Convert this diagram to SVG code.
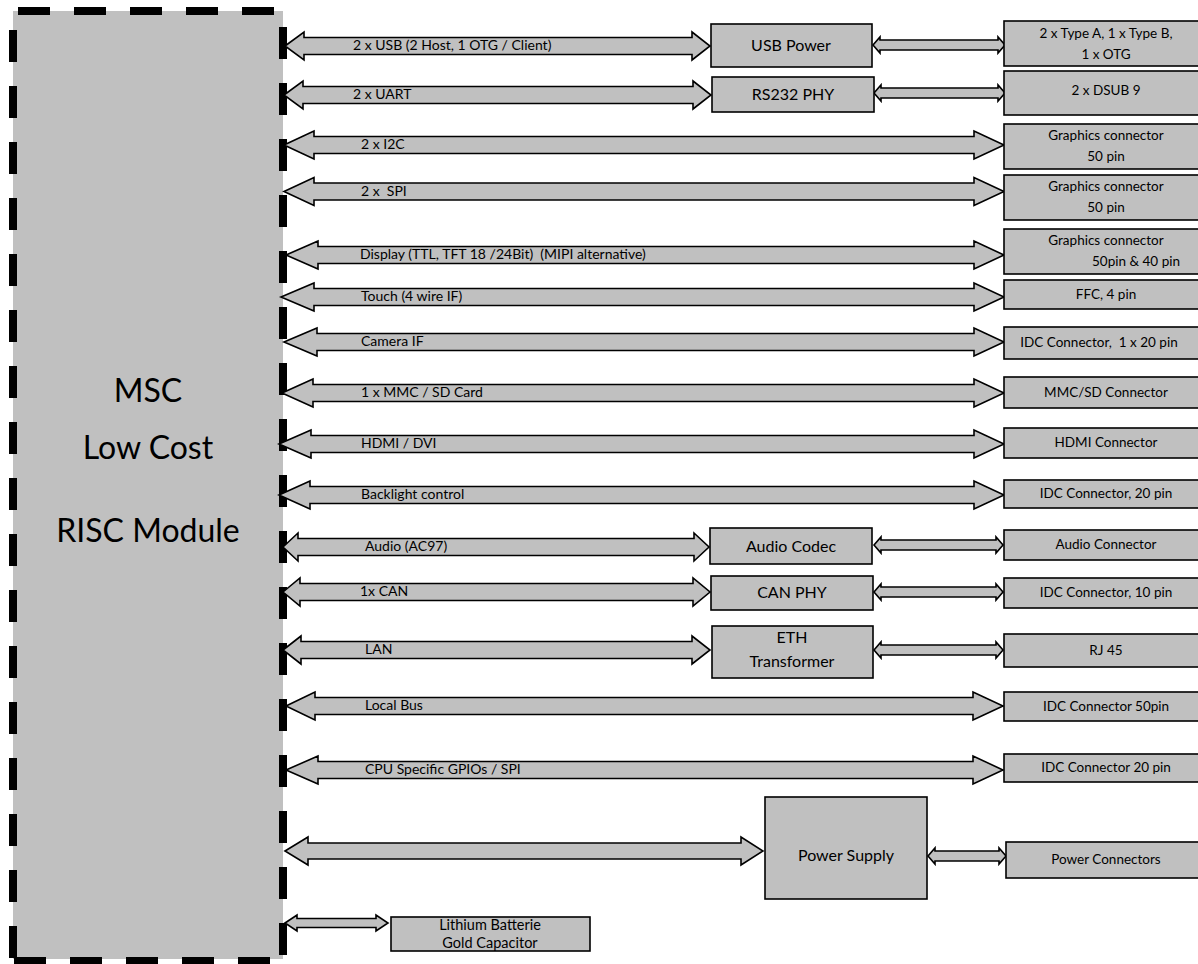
<svg xmlns="http://www.w3.org/2000/svg" width="1198" height="964" viewBox="0 0 1198 964">
<style>
.bx{fill:#c0c0c0;stroke:#000;stroke-width:1.6}
.ar{fill:#c0c0c0;stroke:#000;stroke-width:1.6;stroke-linejoin:miter}
.dash{stroke:#000;stroke-width:8;stroke-dasharray:32 24;fill:none}
text{font-family:Lato,"Open Sans","Liberation Sans",sans-serif;fill:#000}
.lb{font-size:14px}
.rt{font-size:13.5px;text-anchor:middle}
.mt{font-size:16px;text-anchor:middle}
.big{font-size:32px;text-anchor:middle}
</style>
<rect width="1198" height="964" fill="#fff"/>
<g id="msc">
<rect x="13" y="11" width="270" height="948" fill="#c0c0c0"/>
<line class="dash" x1="18" y1="11" x2="283" y2="11"/>
<line class="dash" x1="13" y1="30" x2="13" y2="959"/>
<line class="dash" x1="283" y1="27" x2="283" y2="959"/>
<line class="dash" x1="14" y1="961" x2="283" y2="961"/>
<text class="big" x="148" y="402">MSC</text>
<text class="big" x="148" y="459">Low Cost</text>
<text class="big" x="148" y="542">RISC Module</text>
</g>
<g id="connectors">
<path class="ar" d="M285,46 L304,32 L304,37.5 L692,37.5 L692,32 L710,46 L692,60 L692,54.5 L304,54.5 L304,60 Z"/>
<path class="ar" d="M284,95 L303,81 L303,86.5 L693,86.5 L693,81 L711,95 L693,109 L693,103.5 L303,103.5 L303,109 Z"/>
<path class="ar" d="M284,145 L314,131 L314,136.5 L974,136.5 L974,131 L1004,145 L974,159 L974,153.5 L314,153.5 L314,159 Z"/>
<path class="ar" d="M284,191.5 L314,177.5 L314,183 L974,183 L974,177.5 L1004,191.5 L974,205.5 L974,200 L314,200 L314,205.5 Z"/>
<path class="ar" d="M286,255 L318,241 L318,246.5 L974,246.5 L974,241 L1004,255 L974,269 L974,263.5 L318,263.5 L318,269 Z"/>
<path class="ar" d="M281,297 L314,283 L314,288.5 L974,288.5 L974,283 L1004,297 L974,311 L974,305.5 L314,305.5 L314,311 Z"/>
<path class="ar" d="M284,342 L317,328 L317,333.5 L974,333.5 L974,328 L1004,342 L974,356 L974,350.5 L317,350.5 L317,356 Z"/>
<path class="ar" d="M282,393 L313,379 L313,384.5 L974,384.5 L974,379 L1004,393 L974,407 L974,401.5 L313,401.5 L313,407 Z"/>
<path class="ar" d="M279,444 L311,430 L311,435.5 L974,435.5 L974,430 L1004,444 L974,458 L974,452.5 L311,452.5 L311,458 Z"/>
<path class="ar" d="M279,495 L310,481 L310,486.5 L974,486.5 L974,481 L1004,495 L974,509 L974,503.5 L310,503.5 L310,509 Z"/>
<path class="ar" d="M283,547 L298,533 L298,538.5 L694,538.5 L694,533 L709,547 L694,561 L694,555.5 L298,555.5 L298,561 Z"/>
<path class="ar" d="M283,592 L300,578 L300,583.5 L693,583.5 L693,578 L710,592 L693,606 L693,600.5 L300,600.5 L300,606 Z"/>
<path class="ar" d="M283,650 L301,636 L301,641.5 L692,641.5 L692,636 L710,650 L692,664 L692,658.5 L301,658.5 L301,664 Z"/>
<path class="ar" d="M286,706 L315,692 L315,697.5 L973,697.5 L973,692 L1003,706 L973,720 L973,714.5 L315,714.5 L315,720 Z"/>
<path class="ar" d="M286,770 L318,756 L318,761.5 L973,761.5 L973,756 L1003,770 L973,784 L973,778.5 L318,778.5 L318,784 Z"/>
<path class="ar" d="M285,851 L308,837 L308,843 L741,843 L741,837 L763,851 L741,865 L741,859 L308,859 L308,865 Z"/>
<path class="ar" d="M285,923 L297,915 L297,918.5 L376,918.5 L376,915 L388,923 L376,931 L376,927.5 L297,927.5 L297,931 Z"/>
<path class="ar" d="M873,45 L880,37 L880,40 L998,40 L998,37 L1005,45 L998,53 L998,50 L880,50 L880,53 Z"/>
<path class="ar" d="M874,93 L881,85 L881,88 L998,88 L998,85 L1005,93 L998,101 L998,98 L881,98 L881,101 Z"/>
<path class="ar" d="M874,545 L881,537 L881,540 L996,540 L996,537 L1003,545 L996,553 L996,550 L881,550 L881,553 Z"/>
<path class="ar" d="M874,592 L881,584 L881,587 L996,587 L996,584 L1003,592 L996,600 L996,597 L881,597 L881,600 Z"/>
<path class="ar" d="M874,650 L881,642 L881,645 L996,645 L996,642 L1003,650 L996,658 L996,655 L881,655 L881,658 Z"/>
<path class="ar" d="M928,856 L935,848 L935,851 L999,851 L999,848 L1006,856 L999,864 L999,861 L935,861 L935,864 Z"/>
<text class="lb" x="353" y="50">2 x USB (2 Host, 1 OTG / Client)</text>
<text class="lb" x="353" y="99">2 x UART</text>
<text class="lb" x="361" y="149">2 x I2C</text>
<text class="lb" x="361" y="196" xml:space="preserve">2 x  SPI</text>
<text class="lb" x="360" y="259" xml:space="preserve">Display (TTL, TFT 18 /24Bit)  (MIPI alternative)</text>
<text class="lb" x="361" y="301">Touch (4 wire IF)</text>
<text class="lb" x="361" y="346">Camera IF</text>
<text class="lb" x="361" y="397">1 x MMC / SD Card</text>
<text class="lb" x="361" y="448">HDMI / DVI</text>
<text class="lb" x="361" y="499">Backlight control</text>
<text class="lb" x="365" y="551">Audio (AC97)</text>
<text class="lb" x="360" y="596">1x CAN</text>
<text class="lb" x="365" y="654">LAN</text>
<text class="lb" x="365" y="710">Local Bus</text>
<text class="lb" x="365" y="774">CPU Specific GPIOs / SPI</text>
</g>
<g id="usb-power"><rect class="bx" x="711" y="24" width="161" height="43"/><text class="mt" x="791" y="51">USB Power</text></g>
<g id="rs232-phy"><rect class="bx" x="712" y="77" width="162" height="35"/><text class="mt" x="793" y="100">RS232 PHY</text></g>
<g id="audio-codec"><rect class="bx" x="710" y="528" width="162" height="36"/><text class="mt" x="791" y="552">Audio Codec</text></g>
<g id="can-phy"><rect class="bx" x="711" y="576" width="162" height="34"/><text class="mt" x="792" y="598">CAN PHY</text></g>
<g id="eth-transformer"><rect class="bx" x="712" y="626" width="161" height="52"/><text class="mt" x="792" y="643">ETH</text><text class="mt" x="792" y="667">Transformer</text></g>
<g id="power-supply"><rect class="bx" x="765" y="797" width="162" height="102"/><text class="mt" x="846" y="861">Power Supply</text></g>
<g id="lithium"><rect class="bx" x="391" y="917" width="199" height="34"/><text class="mt" x="490" y="930" style="font-size:14.5px">Lithium Batterie</text><text class="mt" x="490" y="948" style="font-size:14.5px">Gold Capacitor</text></g>
<g id="r1"><rect class="bx" x="1004" y="21" width="210" height="45"/><text class="rt" x="1106" y="38">2 x Type A, 1 x Type B,</text><text class="rt" x="1106" y="59">1 x OTG</text></g>
<g id="r2"><rect class="bx" x="1004" y="71" width="210" height="44"/><text class="rt" x="1106" y="95">2 x DSUB 9</text></g>
<g id="r3"><rect class="bx" x="1004" y="124" width="210" height="45"/><text class="rt" x="1106" y="140">Graphics connector</text><text class="rt" x="1106" y="161">50 pin</text></g>
<g id="r4"><rect class="bx" x="1004" y="175" width="210" height="45"/><text class="rt" x="1106" y="191">Graphics connector</text><text class="rt" x="1106" y="212">50 pin</text></g>
<g id="r5"><rect class="bx" x="1004" y="229" width="210" height="45"/><text class="rt" x="1106" y="245">Graphics connector</text><text class="rt" x="1136" y="266">50pin &amp; 40 pin</text></g>
<g id="r6"><rect class="bx" x="1004" y="280" width="210" height="29"/><text class="rt" x="1106" y="299">FFC, 4 pin</text></g>
<g id="r7"><rect class="bx" x="1004" y="327" width="210" height="32"/><text class="rt" x="1099" y="347" xml:space="preserve">IDC Connector,  1 x 20 pin</text></g>
<g id="r8"><rect class="bx" x="1004" y="377" width="210" height="31"/><text class="rt" x="1106" y="397">MMC/SD Connector</text></g>
<g id="r9"><rect class="bx" x="1004" y="428" width="210" height="30"/><text class="rt" x="1106" y="447">HDMI Connector</text></g>
<g id="r10"><rect class="bx" x="1004" y="480" width="210" height="28"/><text class="rt" x="1106" y="498">IDC Connector, 20 pin</text></g>
<g id="r11"><rect class="bx" x="1004" y="530" width="210" height="30"/><text class="rt" x="1106" y="549">Audio Connector</text></g>
<g id="r12"><rect class="bx" x="1004" y="578" width="210" height="30"/><text class="rt" x="1106" y="597">IDC Connector, 10 pin</text></g>
<g id="r13"><rect class="bx" x="1004" y="634" width="210" height="33"/><text class="rt" x="1106" y="655">RJ 45</text></g>
<g id="r14"><rect class="bx" x="1004" y="692" width="210" height="29"/><text class="rt" x="1106" y="711">IDC Connector 50pin</text></g>
<g id="r15"><rect class="bx" x="1004" y="754" width="210" height="28"/><text class="rt" x="1106" y="772">IDC Connector 20 pin</text></g>
<g id="r16"><rect class="bx" x="1006" y="842" width="210" height="36"/><text class="rt" x="1106" y="864">Power Connectors</text></g>
</svg>
